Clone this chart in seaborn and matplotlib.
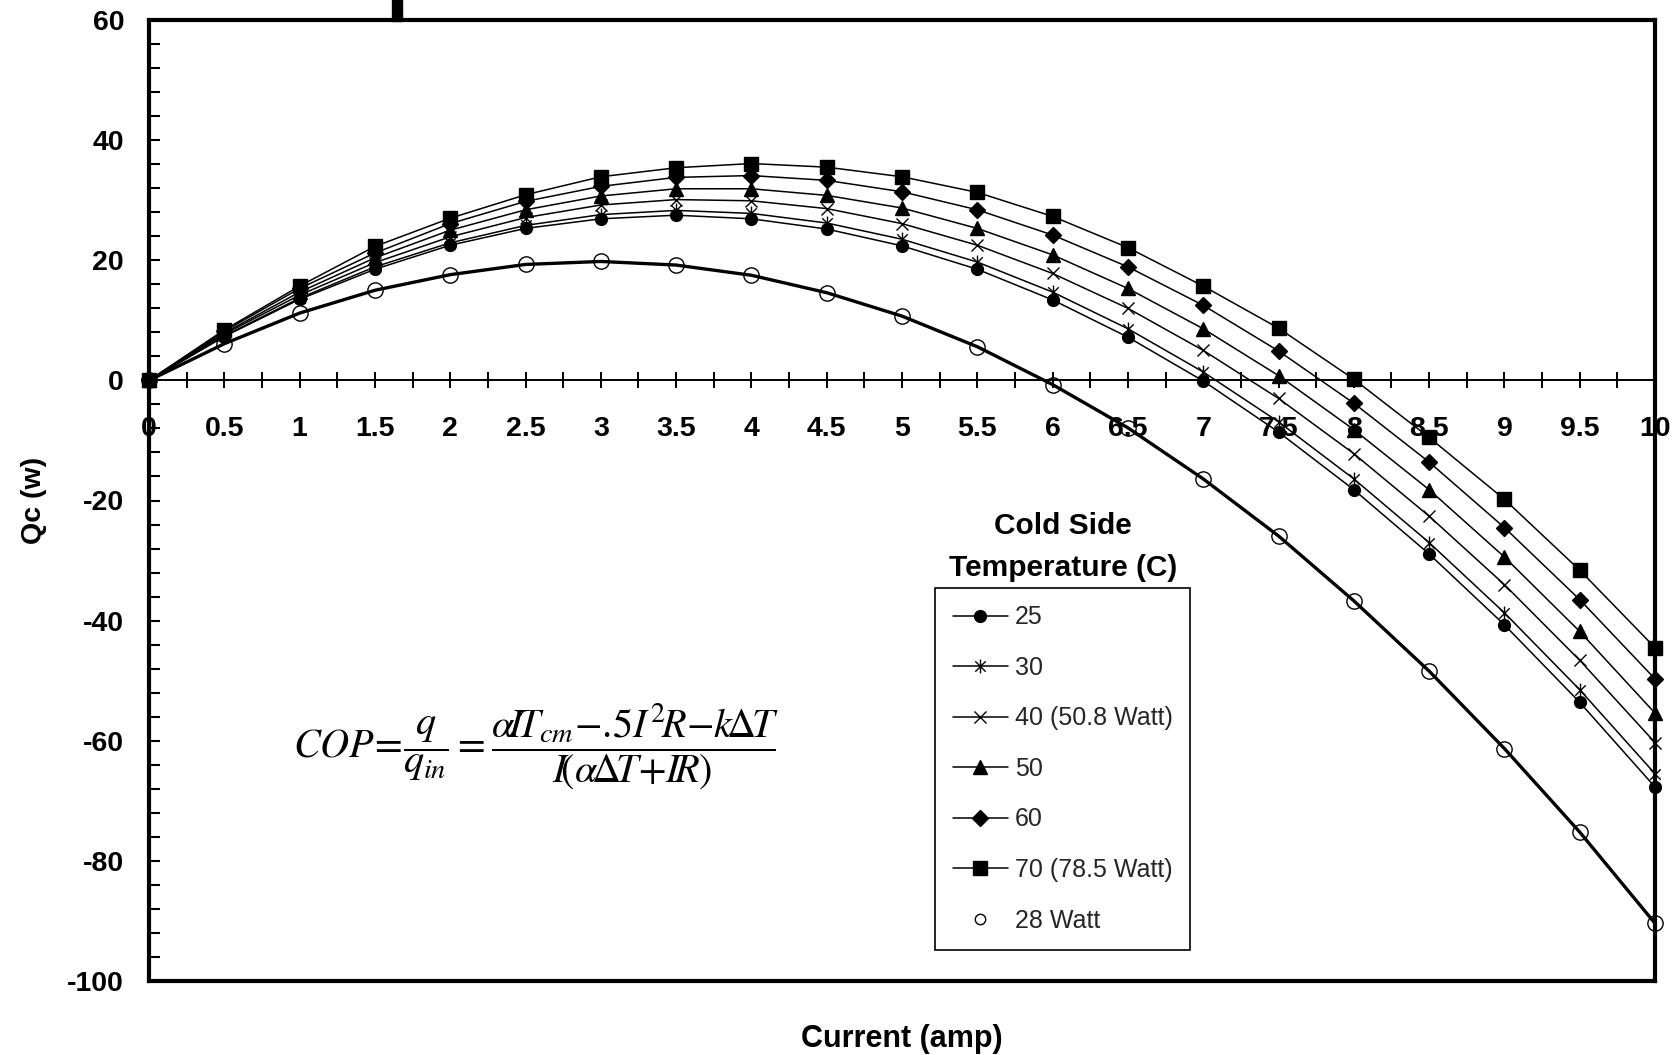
import numpy as np
import pandas as pd
import matplotlib
matplotlib.use("Agg")
import matplotlib.pyplot as plt
from matplotlib.path import Path
from matplotlib.lines import Line2D
from matplotlib.patches import Rectangle
from matplotlib.ticker import MultipleLocator
import seaborn as sns

# ---------------- data ----------------
current = [0, 0.5, 1, 1.5, 2, 2.5, 3, 3.5, 4, 4.5, 5, 5.5, 6, 6.5, 7, 7.5, 8, 8.5, 9, 9.5, 10]
x_tick_labels = ["0", "0.5", "1", "1.5", "2", "2.5", "3", "3.5", "4", "4.5", "5",
                 "5.5", "6", "6.5", "7", "7.5", "8", "8.5", "9", "9.5", "10"]
y_ticks = [-100, -80, -60, -40, -20, 0, 20, 40, 60]

qc_25 = [0, 7.3, 13.5, 18.5, 22.5, 25.3, 26.9, 27.5, 26.9, 25.2, 22.4, 18.5, 13.4, 7.2, -0.1, -8.6, -18.2, -28.9, -40.7, -53.6, -67.7]
qc_30 = [0, 7.4, 13.7, 18.9, 22.9, 25.8, 27.6, 28.3, 27.8, 26.2, 23.5, 19.7, 14.7, 8.6, 1.4, -6.9, -16.4, -27.0, -38.7, -51.5, -65.5]
qc_40 = [0, 7.7, 14.2, 19.6, 23.9, 27.1, 29.2, 30.1, 29.9, 28.6, 26.1, 22.5, 17.8, 12.0, 5.0, -3.0, -12.2, -22.6, -34.0, -46.6, -60.3]
qc_50 = [0, 7.9, 14.7, 20.4, 25.0, 28.4, 30.7, 31.9, 31.9, 30.8, 28.7, 25.3, 20.9, 15.3, 8.6, 0.8, -8.2, -18.2, -29.4, -41.8, -55.4]
qc_60 = [0, 8.2, 15.3, 21.2, 26.1, 29.8, 32.3, 33.8, 34.1, 33.3, 31.4, 28.4, 24.2, 18.9, 12.5, 4.9, -3.8, -13.6, -24.5, -36.5, -49.7]
qc_70 = [0, 8.4, 15.7, 22.3, 27.0, 30.9, 33.9, 35.4, 36.1, 35.5, 33.9, 31.3, 27.3, 22.1, 15.7, 8.7, 0.2, -9.5, -19.8, -31.6, -44.5]
qc_28w = [0, 6.1, 11.2, 15.0, 17.6, 19.3, 19.8, 19.2, 17.5, 14.6, 10.7, 5.6, -0.7, -7.9, -16.4, -25.9, -36.7, -48.4, -61.3, -75.2, -90.4]

series_labels = ["25", "30", "40 (50.8 Watt)", "50", "60", "70 (78.5 Watt)", "28 Watt"]
legend_title = "Cold Side\nTemperature (C)"

# ---------------- style ----------------
sns.set_theme(style="white")
plt.rcParams["font.family"] = ["Liberation Sans", "DejaVu Sans"]
plt.rcParams["mathtext.fontset"] = "stix"

W, H = 1680, 1055
fig = plt.figure(figsize=(W / 100, H / 100), dpi=100)
ax = fig.add_axes([149 / W, 1 - 981 / H, 1506 / W, 961 / H])

star = Path([(0, -1), (0, 1), (-0.75, -0.75), (0.75, 0.75), (-0.75, 0.75), (0.75, -0.75)],
            [Path.MOVETO, Path.LINETO, Path.MOVETO, Path.LINETO, Path.MOVETO, Path.LINETO])

styles = [
    dict(marker="o", ms=8.5, mfc="black", mec="black", mew=1.0),
    dict(marker=star, ms=10, mfc="none", mec="black", mew=1.0),
    dict(marker="x", ms=9, mfc="none", mec="black", mew=1.0),
    dict(marker="^", ms=10, mfc="black", mec="black", mew=1.0),
    dict(marker="D", ms=8.5, mfc="black", mec="black", mew=1.0),
    dict(marker="s", ms=10.5, mfc="black", mec="black", mew=1.0),
]
temps = [qc_25, qc_30, qc_40, qc_50, qc_60, qc_70]

for vals, st in zip(temps, styles):
    sns.lineplot(x=current, y=vals, ax=ax, color="black", lw=1.1, errorbar=None,
                 marker=st["marker"], markersize=st["ms"], markerfacecolor=st["mfc"],
                 markeredgecolor=st["mec"], markeredgewidth=st["mew"],
                 clip_on=False, zorder=3)

# 28 Watt: thick line + open circles
sns.lineplot(x=current, y=qc_28w, ax=ax, color="black", lw=2.4, errorbar=None,
             clip_on=False, zorder=4)
sns.lineplot(x=current, y=qc_28w, ax=ax, color="black", lw=0, errorbar=None,
             marker="o", markersize=11, markerfacecolor="none", markeredgecolor="black",
             markeredgewidth=1.0, clip_on=False, zorder=4)

ax.set_xlim(0, 10)
ax.set_ylim(-100, 60)

# frame
for sp in ax.spines.values():
    sp.set_visible(True)
    sp.set_linewidth(3)
    sp.set_color("black")

# y axis
ax.set_yticks(y_ticks)
ax.set_yticklabels([str(v) for v in y_ticks], fontweight="bold")
ax.yaxis.set_minor_locator(MultipleLocator(4))
ax.tick_params(axis="y", which="both", direction="in", length=8, width=1.5,
               left=True, right=False, pad=18, labelsize=20.5, colors="black")
ax.tick_params(axis="x", which="both", bottom=False, top=False, labelbottom=False)

# x axis crossing at y = 0
secax = ax.secondary_xaxis((0 - (-100)) / 160)
secax.set_alignment("bottom")
secax.set_xticks(current)
secax.set_xticklabels(x_tick_labels, fontweight="bold")
secax.xaxis.set_minor_locator(MultipleLocator(0.25))
secax.tick_params(axis="x", which="both", direction="inout", length=12, width=1.4,
                  pad=19.5, labelsize=20.5, colors="black", bottom=True, top=False,
                  labelbottom=True, labeltop=False)
for s in ("bottom", "top"):
    secax.spines[s].set_linewidth(1.4)
    secax.spines[s].set_color("black")

ax.set_xlabel("Current (amp)", fontsize=22, fontweight="bold", color="black")
ax.xaxis.set_label_coords(0.5, -0.045)
ax.set_ylabel("Qc (w)", fontsize=20.5, fontweight="bold", color="black")
ax.yaxis.set_label_coords(-0.068, 0.5)

# legend
handles = []
for st in styles:
    handles.append(Line2D([], [], color="black", lw=1.1, marker=st["marker"],
                          markersize=st["ms"], markerfacecolor=st["mfc"],
                          markeredgecolor=st["mec"], markeredgewidth=st["mew"]))
handles.append(Line2D([], [], ls="none", marker="o", markersize=7.5,
                      markerfacecolor="white", markeredgecolor="black", markeredgewidth=1.0))
leg = ax.legend(handles, series_labels, loc="upper left",
                bbox_to_anchor=(935 / W, 1 - 588 / H), bbox_transform=fig.transFigure,
                borderaxespad=0, frameon=True, fancybox=False, framealpha=1,
                edgecolor="black", fontsize=18, handlelength=2.2, handletextpad=0.3,
                borderpad=0.7, labelspacing=1.06)
leg.get_frame().set_linewidth(1.2)
leg.set_zorder(5)

fig.text(1063 / W, 1 - 547 / H, legend_title, ha="center", va="center",
         fontweight="bold", fontsize=21.5, linespacing=1.62, color="black")

# equation
formula = (r"$COP\!{=}\!\dfrac{q}{q_{in}}{=}\dfrac{\alpha\!I\!T_{cm}{-}.\!5I^{2}\!R{-}k\!\Delta\!T}"
           r"{I\!\left(\alpha\!\Delta\!T{+}I\!R\right)}$")
fig.text(293 / W, 1 - 747 / H, formula, fontsize=29, ha="left", va="center", color="black")

# cropped black bar at the very top
fig.patches.append(Rectangle((392 / W, 1 - 21 / H), 10 / W, 21 / H,
                             transform=fig.transFigure, color="black", zorder=10))

fig.savefig("out.png", dpi=100, facecolor="white")
